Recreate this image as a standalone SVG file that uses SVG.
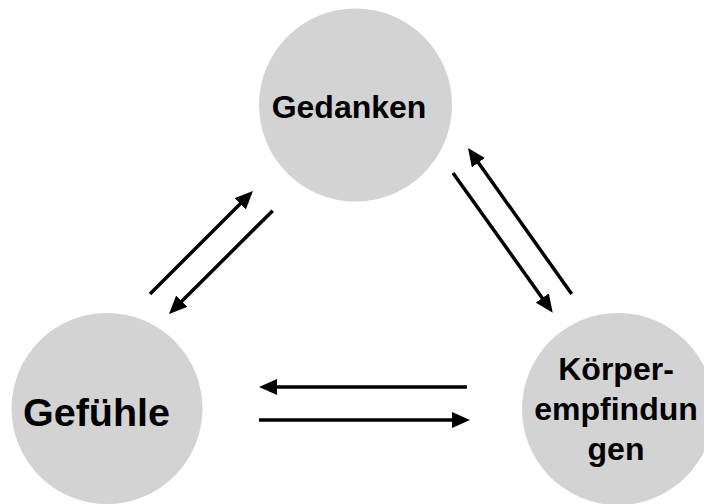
<svg xmlns="http://www.w3.org/2000/svg" width="704" height="504" viewBox="0 0 704 504">
<style>
.node{fill:#d3d3d3}
.lbl{font-family:"Liberation Sans",Arial,sans-serif;font-weight:bold;fill:#000;text-anchor:middle}
.arr{stroke:#000;stroke-width:3.5;fill:none;marker-end:url(#ah)}
</style>
<defs>
<marker id="ah" markerUnits="userSpaceOnUse" markerWidth="18" markerHeight="16" viewBox="0 0 18 16" refX="10" refY="8" orient="auto">
<path d="M0,0 L18,8 L0,16 z" fill="#000"/>
</marker>
</defs>
<rect width="704" height="504" fill="#fff"/>
<g id="gedanken">
<circle class="node" cx="355.5" cy="105" r="96.5"/>
<text class="lbl" x="349" y="118" font-size="32">Gedanken</text>
</g>
<g id="gefuehle">
<circle class="node" cx="107" cy="408.5" r="95.5"/>
<text class="lbl" x="96.5" y="426" font-size="39.5">Gefühle</text>
</g>
<g id="koerper">
<circle class="node" cx="618" cy="409" r="96"/>
<text class="lbl" font-size="32"><tspan x="616" y="380">Körper-</tspan><tspan x="616" y="420">empfindun</tspan><tspan x="616" y="460">gen</tspan></text>
</g>
<g id="connectors">
<line class="arr" x1="150" y1="294" x2="247.3" y2="196.7"/>
<line class="arr" x1="272.7" y1="210.7" x2="174.7" y2="308.3"/>
<line class="arr" x1="453" y1="173" x2="548.1" y2="306.2"/>
<line class="arr" x1="571.7" y1="294" x2="472.6" y2="154.5"/>
<line class="arr" x1="467" y1="387" x2="267" y2="387"/>
<line class="arr" x1="259" y1="420" x2="462" y2="420"/>
</g>
</svg>
